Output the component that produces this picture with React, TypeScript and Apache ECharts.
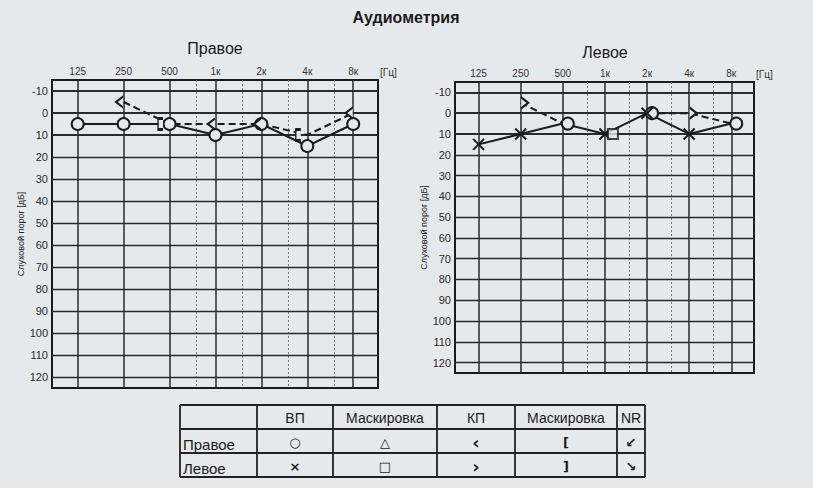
import React, { useEffect, useRef } from 'react';
import * as echarts from 'echarts';

// ---------- data ----------
const freqLabels = ['125', '250', '500', '1к', '2к', '4к', '8к'];
const freqPos = [0, 1, 2, 3, 4, 5, 6]; // octaves above 125 Hz
const midPos = [2.585, 3.585, 4.585, 5.585]; // 750, 1.5к, 3к, 6к
const dbTicks = [-10, 0, 10, 20, 30, 40, 50, 60, 70, 80, 90, 100, 110, 120];

// Правое (right ear)
const rightAir = [5, 5, 5, 10, 5, 15, 5];
const rightAirSymbols = ['circle', 'circle', 'circle', 'circle', 'circle', 'circle', 'circle'];
const rightBoneIdx = [1, 2, 3, 4, 5, 6];
const rightBone = [-5, 5, 5, 5, 10, 0];
const rightBoneSymbols = ['lt', 'lbr', 'lt', 'lt', 'lbr', 'lt'];

// Левое (left ear)
const leftAir = [15, 10, 5, 10, 0, 10, 5];
const leftAirSymbols = ['cross', 'cross', 'none', 'cross', 'cross', 'cross', 'none'];
const leftBoneIdx = [1, 2, 3, 4, 5, 6];
const leftBone: (number | null)[] = [-5, 5, null, 0, 0, 5];
const leftBoneSymbols = ['gt', 'circle', 'none', 'circle', 'gt', 'circle'];
const leftMaskIdx = [3];
const leftMask = [10];

// legend table
const tableHeader = ['', 'ВП', 'Маскировка', 'КП', 'Маскировка', 'NR'];
const tableRows = [
  ['Правое', '○', '△', '‹', '[', '↙'],
  ['Левое', '×', '□', '›', ']', '↘'],
];

// ---------- styles ----------
const BG = '#e6e9ec';
const INK = '#1b1b1b';
const FONT = '"Liberation Sans", Arial, sans-serif';

const SYM: Record<string, string> = {
  circle: 'circle',
  cross: 'path://M0,0L10,10M10,0L0,10',
  lt: 'path://M7,0L0,6L7,12',
  gt: 'path://M0,0L7,6L0,12',
  lbr: 'path://M6,0L0,0L0,12L6,12',
  rbr: 'path://M0,0L6,0L6,12L0,12',
  square: 'rect',
  none: 'none',
};
const SIZE: Record<string, any> = {
  circle: 12,
  cross: 11,
  lt: [7, 11],
  gt: [7, 11],
  lbr: [5, 11],
  rbr: [5, 11],
  square: 10,
  none: 1,
};

function pts(idx: number[], vals: (number | null)[], syms: string[], offsets: Record<string, number[]>) {
  return idx.map((x, i) => {
    const v = vals[i];
    const s = syms[i];
    return {
      value: [x, v === null ? '-' : v],
      symbol: SYM[s],
      symbolSize: SIZE[s],
      symbolOffset: offsets[s] || [0, 0],
    };
  });
}

function gridLines(gi: number) {
  return {
    type: 'line',
    xAxisIndex: gi,
    yAxisIndex: gi,
    data: [[0, 0]],
    symbol: 'none',
    lineStyle: { opacity: 0 },
    silent: true,
    z: 1,
    markLine: {
      silent: true,
      symbol: ['none', 'none'],
      label: { show: false },
      animation: false,
      data: [
        ...freqPos.map((v) => ({ xAxis: v, lineStyle: { color: '#2a2a2a', width: 1.5, type: 'solid' } })),
        ...midPos.map((v) => ({ xAxis: v, lineStyle: { color: '#777', width: 1, type: [2, 2] } })),
        ...dbTicks.map((v) => ({ yAxis: v, lineStyle: { color: '#2a2a2a', width: v >= -10 && v <= 10 ? 1.8 : 1.3, type: 'solid' } })),
      ],
    },
  };
}

function dataLine(gi: number, data: any[], dashed: boolean) {
  return {
    type: 'line',
    xAxisIndex: gi,
    yAxisIndex: gi,
    data,
    connectNulls: false,
    z: 5,
    lineStyle: { color: INK, width: 2, type: dashed ? [7, 4] : 'solid' },
    itemStyle: { color: BG, borderColor: INK, borderWidth: 2 },
    emphasis: { disabled: true },
  };
}

function xAxis(gi: number) {
  return {
    type: 'value',
    gridIndex: gi,
    position: 'top',
    min: -0.56,
    max: 6.54,
    axisLine: { show: false },
    axisTick: { show: false },
    splitLine: { show: false },
    axisLabel: {
      customValues: freqPos,
      formatter: (v: number) => freqLabels[Math.round(v)] ?? '',
      fontSize: 10,
      color: '#333',
      fontFamily: FONT,
      margin: 4,
    },
  };
}

function yAxis(gi: number) {
  return {
    type: 'value',
    gridIndex: gi,
    inverse: true,
    min: -15,
    max: 125,
    axisLine: { show: false },
    axisTick: { show: false },
    splitLine: { show: false },
    axisLabel: {
      customValues: dbTicks,
      fontSize: 11,
      color: '#2a2a2a',
      fontFamily: FONT,
      margin: 4,
    },
    name: 'Слуховой порог [дБ]',
    nameLocation: 'middle',
    nameRotate: 90,
    nameGap: 24,
    nameTextStyle: { fontSize: 9, color: '#222', fontFamily: FONT },
  };
}

function buildTable() {
  const colEdges = [180, 257, 333, 437, 515, 617, 645];
  const rowEdges = [405, 429, 453, 477];
  const els: any[] = [];
  const ls = { stroke: '#222', lineWidth: 1.8 };
  rowEdges.forEach((y) => {
    els.push({ type: 'line', shape: { x1: colEdges[0], y1: y, x2: colEdges[colEdges.length - 1], y2: y }, style: ls });
  });
  colEdges.forEach((x) => {
    els.push({ type: 'line', shape: { x1: x, y1: rowEdges[0], x2: x, y2: rowEdges[rowEdges.length - 1] }, style: ls });
  });
  tableHeader.forEach((t, c) => {
    if (!t) return;
    els.push({
      type: 'text',
      x: (colEdges[c] + colEdges[c + 1]) / 2,
      y: (rowEdges[0] + rowEdges[1]) / 2 + 1,
      style: { text: t, fontSize: 14, fill: '#1a1a1a', fontFamily: FONT, align: 'center', verticalAlign: 'middle' },
    });
  });
  tableRows.forEach((row, r) => {
    row.forEach((t, c) => {
      const yc = (rowEdges[r + 1] + rowEdges[r + 2]) / 2 + 1;
      if (c === 0) {
        els.push({
          type: 'text',
          x: colEdges[0] + 3,
          y: yc + 2,
          style: { text: t, fontSize: 15, fill: '#1a1a1a', fontFamily: FONT, align: 'left', verticalAlign: 'middle' },
        });
      } else {
        const big = t === '‹' || t === '›';
        els.push({
          type: 'text',
          x: (colEdges[c] + colEdges[c + 1]) / 2,
          y: yc,
          style: { text: t, fontSize: big ? 18 : 13, fontWeight: 'bold', fill: '#1a1a1a', fontFamily: '"DejaVu Sans", sans-serif', align: 'center', verticalAlign: 'middle' },
        });
      }
    });
  });
  return els;
}

export default function App() {
  const ref = useRef<HTMLDivElement>(null);
  useEffect(() => {
    document.body.style.margin = '0';
    const chart = echarts.init(ref.current!, null, { renderer: 'svg' });
    const rightOff = { lt: [-4, 0], lbr: [-9, 0] };
    const leftOff = { gt: [4, 0], circle: [5, 0] };
    chart.setOption({
      animation: false,
      backgroundColor: BG,
      textStyle: { fontFamily: FONT },
      grid: [
        { left: 52, top: 80, width: 326, bottom: 100, show: true, borderColor: INK, borderWidth: 2, backgroundColor: 'transparent' },
        { left: 455, top: 82, width: 299, bottom: 115, show: true, borderColor: INK, borderWidth: 2, backgroundColor: 'transparent' },
      ],
      xAxis: [xAxis(0), xAxis(1)],
      yAxis: [yAxis(0), yAxis(1)],
      series: [
        gridLines(0),
        gridLines(1),
        dataLine(0, pts(freqPos, rightAir, rightAirSymbols, {}), false),
        dataLine(0, pts(rightBoneIdx, rightBone, rightBoneSymbols, rightOff), true),
        dataLine(1, pts(leftBoneIdx, leftBone, leftBoneSymbols, leftOff), true),
        dataLine(1, pts(freqPos, leftAir, leftAirSymbols, {}), false),
        {
          type: 'scatter',
          xAxisIndex: 1,
          yAxisIndex: 1,
          z: 6,
          data: leftMaskIdx.map((x, i) => [x, leftMask[i]]),
          symbol: 'rect',
          symbolSize: 10,
          symbolOffset: [8, 0],
          itemStyle: { color: BG, borderColor: INK, borderWidth: 2 },
        },
      ],
      graphic: [
        { type: 'text', x: 406, y: 17, style: { text: 'Аудиометрия', fontSize: 16, fontWeight: 'bold', fill: '#1a1a1a', fontFamily: FONT, align: 'center', verticalAlign: 'middle' } },
        { type: 'text', x: 215, y: 48, style: { text: 'Правое', fontSize: 16, fill: '#1a1a1a', fontFamily: FONT, align: 'center', verticalAlign: 'middle' } },
        { type: 'text', x: 605, y: 52, style: { text: 'Левое', fontSize: 16, fill: '#1a1a1a', fontFamily: FONT, align: 'center', verticalAlign: 'middle' } },
        { type: 'text', x: 380, y: 72, style: { text: '[Гц]', fontSize: 10, fill: '#333', fontFamily: FONT, align: 'left', verticalAlign: 'middle' } },
        { type: 'text', x: 756, y: 74, style: { text: '[Гц]', fontSize: 10, fill: '#333', fontFamily: FONT, align: 'left', verticalAlign: 'middle' } },
        ...buildTable(),
      ],
    });
    return () => chart.dispose();
  }, []);
  return <div ref={ref} style={{ width: 813, height: 488 }} />;
}
